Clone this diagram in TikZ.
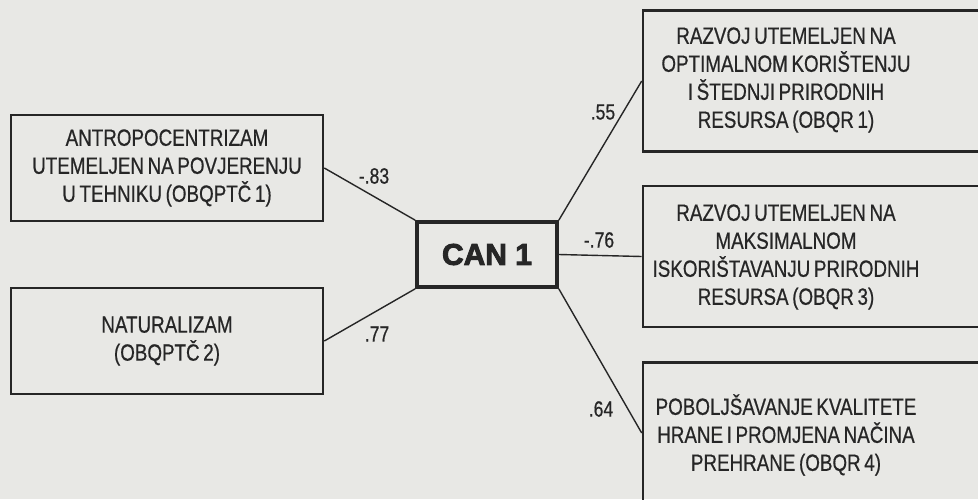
\documentclass[tikz,border=0pt]{standalone}
\usepackage{fontspec}
\setmainfont[FakeStretch=0.8, FakeBold=0.6, WordSpace=0.7]{Liberation Sans}
\newfontfamily\canfont[FakeBold=3]{Liberation Sans Bold}

\definecolor{paper}{RGB}{232,232,229}
\definecolor{ink}{RGB}{38,38,38}

\tikzset{
  obox/.style={draw=ink, line width=2.6pt, inner sep=0pt},
  txt/.style={align=center, text=ink, inner sep=0pt, font=\fontsize{23.5}{28}\selectfont},
  coef/.style={text=ink, inner sep=0pt, font=\fontsize{22}{24}\selectfont},
  link/.style={draw=ink, line width=1.4pt},
}

\begin{document}
\begin{tikzpicture}[x=1pt, y=-1pt]
  % Page
  \fill[paper] (0,0) rectangle (978,499);
  \clip (0,0) rectangle (978,499);

  % Left-hand variables
  \node[obox, txt, minimum width=312pt, minimum height=106pt] (l1) at (167,168)
    {ANTROPOCENTRIZAM\\UTEMELJEN NA POVJERENJU\\U TEHNIKU (OBQPTČ 1)};
  \node[obox, txt, minimum width=312pt, minimum height=106pt] (l2) at (167,341)
    {NATURALIZAM\\(OBQPTČ 2)};

  % Canonical root
  \node[draw=ink, line width=3.6pt, minimum width=140pt, minimum height=65pt,
        text=ink, font=\canfont\fontsize{30}{30}\selectfont] (can) at (487,254.5) {CAN 1};

  % Right-hand variables
  \node[obox, minimum width=358pt, minimum height=141pt] (r1) at (822,81) {};
  \node[obox, minimum width=358pt, minimum height=141pt] (r2) at (822,256.5) {};
  \node[obox, minimum width=358pt, minimum height=141pt] (r3) at (822,433) {};

  \node[txt] (r1t) at (786,80)
    {RAZVOJ UTEMELJEN NA\\OPTIMALNOM KORIŠTENJU\\I ŠTEDNJI PRIRODNIH\\RESURSA (OBQR 1)};
  \node[txt] (r2t) at (786,257)
    {RAZVOJ UTEMELJEN NA\\MAKSIMALNOM\\ISKORIŠTAVANJU PRIRODNIH\\RESURSA (OBQR 3)};
  \node[txt] (r3t) at (786,435)
    {POBOLJŠAVANJE KVALITETE\\HRANE I PROMJENA NAČINA\\PREHRANE (OBQR 4)};

  % Loadings
  \draw[link] (l1.east) -- (can.north west);
  \draw[link] (l2.east) -- (can.south west);
  \draw[link] (can.north east) -- (r1.west);
  \draw[link] (can.east) -- (r2.west);
  \draw[link] (can.south east) -- (r3.west);

  \node[coef] (c1) at (374,176) {-.83};
  \node[coef] (c2) at (377,334) {.77};
  \node[coef] (c3) at (603,112) {.55};
  \node[coef] (c4) at (599,240) {-.76};
  \node[coef] (c5) at (601,409) {.64};
\end{tikzpicture}
\end{document}
